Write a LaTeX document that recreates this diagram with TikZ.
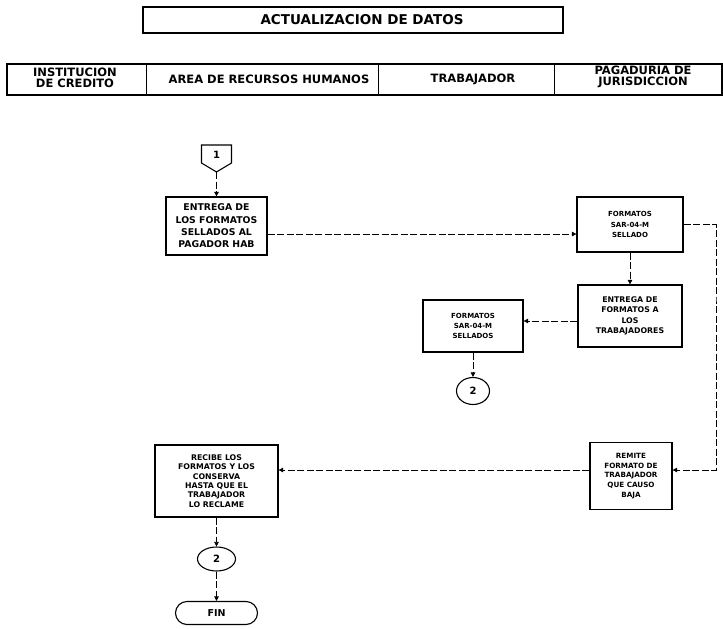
\documentclass[tikz,border=0pt]{standalone}
\usepackage{fontspec}
\setmainfont{DejaVu Sans}
\usetikzlibrary{arrows.meta,shapes.misc,shapes.geometric}
\tikzset{
  frame/.style={draw=black, line width=1.1pt},
  hdr/.style={inner sep=0pt, align=center, font=\bfseries\fontsize{11.5}{11.2}\selectfont},
  proc/.style={draw=black, line width=1.2pt, rectangle, inner sep=0pt, align=center},
  conn/.style={draw=black, line width=0.6pt, dash pattern=on 7pt off 2.5pt},
  arr/.style={conn, -{Triangle[length=4.5pt,width=4.5pt]}},
  circ/.style={draw=black, ellipse, line width=1.1pt, inner sep=0pt, font=\bfseries\fontsize{10}{12}\selectfont},
}
\begin{document}
\begin{tikzpicture}[x=1pt,y=-1pt]
\useasboundingbox (0,0) rectangle (723,629);
% title
\draw[frame] (143,7) rectangle (563,33);
\node[hdr, font=\bfseries\fontsize{13.5}{14}\selectfont] (title) at (362,20) {ACTUALIZACION DE DATOS};
% header band
\draw[frame] (7,64) rectangle (722,95);
\draw[line width=0.6pt] (146,64) -- (146,95);
\draw[line width=0.6pt] (378,64) -- (378,95);
\draw[line width=0.6pt] (554,64) -- (554,95);
\node[hdr] (h1) at (75,78) {INSTITUCION\\DE CREDITO};
\node[hdr] (h2) at (269,79) {AREA DE RECURSOS HUMANOS};
\node[hdr] (h3) at (473,79) {TRABAJADOR};
\node[hdr] (h4) at (643,77) {PAGADURIA DE\\JURISDICCION};
% off-page connector 1
\draw[line width=1.1pt] (201.5,145) -- (231.5,145) -- (231.5,163) -- (216.5,172) -- (201.5,163) -- cycle;
\node[font=\bfseries\fontsize{10}{12}\selectfont, inner sep=0pt] (c1) at (216.5,155) {1};
\coordinate (c1b) at (216.5,172);
% process boxes
\node[proc, minimum width=101pt, minimum height=58pt, font=\bfseries\fontsize{9.3}{12.4}\selectfont] (A) at (216.5,226)
  {ENTREGA DE\\LOS FORMATOS\\SELLADOS AL\\PAGADOR HAB};
\node[proc, minimum width=106pt, minimum height=55pt, font=\bfseries\fontsize{7}{10.5}\selectfont] (B) at (630,224.5)
  {FORMATOS\\SAR-04-M\\SELLADO};
\node[proc, minimum width=104pt, minimum height=62pt, font=\bfseries\fontsize{7.8}{10.5}\selectfont] (C) at (630,316)
  {ENTREGA DE\\FORMATOS A\\LOS\\TRABAJADORES};
\node[proc, minimum width=100pt, minimum height=52pt, font=\bfseries\fontsize{7}{10.3}\selectfont] (D) at (473,326)
  {FORMATOS\\SAR-04-M\\SELLADOS};
\node[circ, minimum width=33pt, minimum height=27pt] (k2a) at (473,391) {2};
\node[proc, minimum width=82pt, minimum height=67pt, font=\bfseries\fontsize{7.2}{9.6}\selectfont] (E) at (631,476)
  {REMITE\\FORMATO DE\\TRABAJADOR\\QUE CAUSO\\BAJA};
\node[proc, minimum width=123pt, minimum height=72pt, font=\bfseries\fontsize{7.8}{9.3}\selectfont] (F) at (216.5,481)
  {RECIBE LOS\\FORMATOS Y LOS\\CONSERVA\\HASTA QUE EL\\TRABAJADOR\\LO RECLAME};
\node[circ, minimum width=38pt, minimum height=24pt] (k2b) at (216.5,559) {2};
\node[draw=black, line width=1.1pt, rounded rectangle, minimum width=82pt, minimum height=23pt, inner sep=0pt,
  font=\bfseries\fontsize{9.5}{11}\selectfont] (fin) at (216.5,613) {FIN};
\coordinate (rt) at (716,300);
% connectors
\draw[arr] (c1b) -- (A.north);
\draw[arr] ([yshift=-8pt]A.east) -- ([yshift=-8pt]A.east -| B.west);
\draw[arr] (B.south) -- (C.north);
\draw[arr] ([yshift=-5pt]C.west) -- ([yshift=-5pt]C.west -| D.east);
\draw[arr] (D.south) -- (k2a.north);
\draw[arr] (B.east) -| (rt) |- ([yshift=6pt]E.east);
\draw[arr] ([yshift=6pt]E.west) -- ([yshift=6pt]E.west -| F.east);
\draw[arr] (F.south) -- (k2b.north);
\draw[arr] (k2b.south) -- (fin.north);
\end{tikzpicture}
\end{document}
